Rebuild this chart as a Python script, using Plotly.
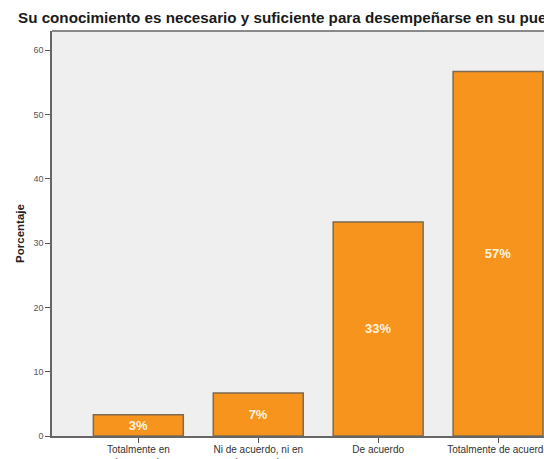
import plotly.graph_objects as go

categories = ["Totalmente en<br>desacuerdo", "Ni de acuerdo, ni en<br>desacuerdo", "De acuerdo", "Totalmente de acuerdo"]
porcentajes = [3.3, 6.7, 33.3, 56.7]
etiquetas = ["3%", "7%", "33%", "57%"]
y_ticks = [0, 10, 20, 30, 40, 50, 60]

FONT = "Liberation Sans, Arial, sans-serif"

fig = go.Figure(
    go.Bar(
        x=list(range(len(categories))),
        y=porcentajes,
        width=0.75,
        marker=dict(color="#f7941d", line=dict(color="#7d6a52", width=1.5)),
        text=etiquetas,
        texttemplate="<b>%{text}</b>",
        textposition="inside",
        insidetextanchor="middle",
        constraintext="none",
        textangle=0,
        textfont=dict(family=FONT, size=13, color="#fdf3dc"),
        hoverinfo="skip",
    )
)

fig.update_layout(
    width=544,
    height=459,
    margin=dict(l=52, r=0, t=31, b=23),
    paper_bgcolor="white",
    plot_bgcolor="#efefef",
    showlegend=False,
    title=dict(
        text="<b>Su conocimiento es necesario y suficiente para desempeñarse en su puesto</b>",
        x=18 / 544, xanchor="left", xref="container",
        y=1 - 18 / 459, yanchor="middle", yref="container",
        font=dict(family=FONT, size=15.2, color="#1a1a1a"),
    ),
    bargap=0.25,
)

fig.update_xaxes(
    range=[-0.72, 3.383],
    automargin=False,
    tickmode="array",
    tickvals=list(range(len(categories))),
    ticktext=categories,
    ticks="outside", ticklen=5, tickcolor="#555555", tickwidth=1,
    ticklabelstandoff=-2,
    ticklabeloverflow="allow",
    tickfont=dict(family=FONT, size=10, color="#333333"),
    showgrid=False, zeroline=False,
    showline=True, linecolor="#666666", linewidth=1.5,
)

fig.update_yaxes(
    range=[0, 63],
    automargin=False,
    tickmode="array",
    tickvals=y_ticks,
    ticks="outside", ticklen=5, tickcolor="#555555", tickwidth=1,
    tickfont=dict(family=FONT, size=9, color="#555555"),
    showgrid=False, zeroline=False,
    showline=True, linecolor="#666666", linewidth=1.5,
    title=dict(text="<b>Porcentaje</b>", font=dict(family=FONT, size=11.5, color="#222222"), standoff=6),
)

# top border of the plot frame
fig.add_shape(type="line", xref="paper", yref="paper", x0=0, x1=1, y0=1, y1=1,
              line=dict(color="#666666", width=1.5))

fig.write_html("out.html")
